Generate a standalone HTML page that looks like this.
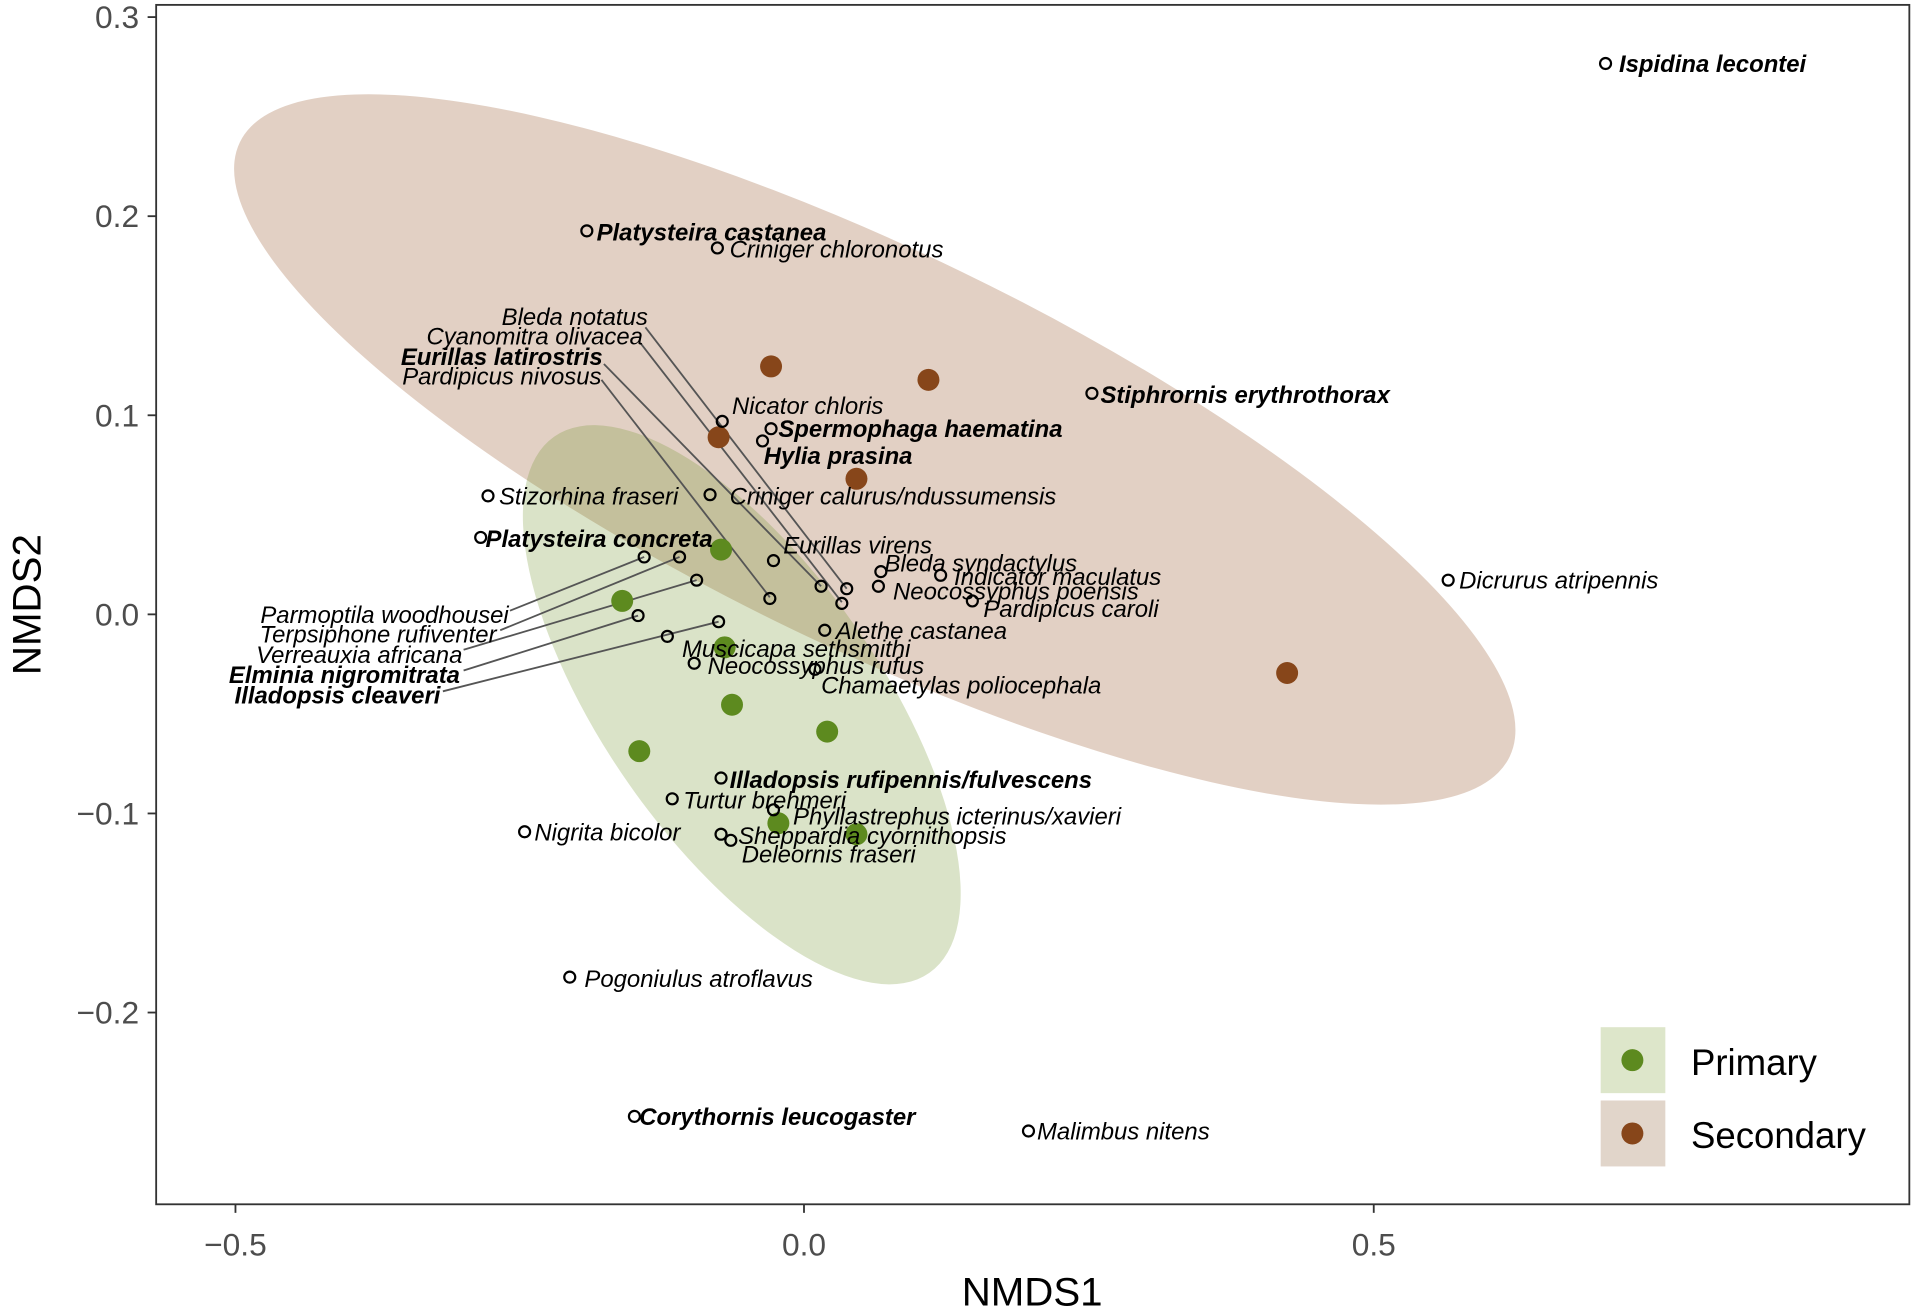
<!DOCTYPE html>
<html><head><meta charset="utf-8"><style>
html,body{margin:0;padding:0;background:#fff;}
svg{display:block;}
text{font-family:"Liberation Sans",sans-serif;}
.l{font-size:19.6px;font-style:italic;fill:#000;}
.b{font-weight:bold;}
.t{font-size:26px;fill:#4d4d4d;}
</style></head><body>
<svg width="1913" height="1313" viewBox="0 0 1568 1075" preserveAspectRatio="none" xmlns="http://www.w3.org/2000/svg">
<rect width="1568" height="1075" fill="#fff"/>
<ellipse cx="717" cy="368" rx="578" ry="162" transform="rotate(25.8 717 368)" fill="rgb(139,69,19)" fill-opacity="0.25"/>
<ellipse cx="608" cy="577" rx="268" ry="113" transform="rotate(55 608 577)" fill="rgb(107,142,35)" fill-opacity="0.25"/>
<g stroke="#555" stroke-width="1.5" fill="none">
<line x1="529" y1="268" x2="694" y2="482"/>
<line x1="525" y1="281" x2="690" y2="493"/>
<line x1="495" y1="298" x2="673" y2="480"/>
<line x1="493" y1="311" x2="631" y2="489"/>
<line x1="418" y1="500" x2="528" y2="456"/>
<line x1="410" y1="516" x2="557" y2="456"/>
<line x1="380" y1="532" x2="571" y2="475"/>
<line x1="380" y1="549" x2="523" y2="504"/>
<line x1="363" y1="566" x2="589" y2="509"/>
</g>
<g fill="#5d8a1f">
<circle cx="591" cy="450" r="9"/><circle cx="510" cy="492" r="9"/><circle cx="594" cy="530" r="9"/><circle cx="600" cy="577" r="9"/><circle cx="678" cy="599" r="9"/><circle cx="524" cy="615" r="9"/><circle cx="638" cy="674" r="9"/><circle cx="702" cy="683" r="9"/>
</g>
<g fill="#87461a">
<circle cx="632" cy="300" r="9"/><circle cx="761" cy="311" r="9"/><circle cx="589" cy="358" r="9"/><circle cx="702" cy="392" r="9"/><circle cx="1055" cy="551" r="9"/>
</g>
<g fill="none" stroke="#000" stroke-width="1.8">
<circle cx="1316" cy="52" r="4.5"/><circle cx="481" cy="189" r="4.5"/><circle cx="588" cy="203" r="4.5"/><circle cx="592" cy="345" r="4.5"/><circle cx="632" cy="351" r="4.5"/><circle cx="625" cy="361" r="4.5"/><circle cx="895" cy="322" r="4.5"/><circle cx="400" cy="406" r="4.5"/><circle cx="582" cy="405" r="4.5"/><circle cx="394" cy="440" r="4.5"/><circle cx="634" cy="459" r="4.5"/><circle cx="722" cy="468" r="4.5"/><circle cx="771" cy="471" r="4.5"/><circle cx="720" cy="480" r="4.5"/><circle cx="797" cy="492" r="4.5"/><circle cx="1187" cy="475" r="4.5"/><circle cx="676" cy="516" r="4.5"/><circle cx="547" cy="521" r="4.5"/><circle cx="569" cy="543" r="4.5"/><circle cx="668" cy="548" r="4.5"/><circle cx="591" cy="637" r="4.5"/><circle cx="551" cy="654" r="4.5"/><circle cx="634" cy="663" r="4.5"/><circle cx="430" cy="681" r="4.5"/><circle cx="591" cy="683" r="4.5"/><circle cx="599" cy="688" r="4.5"/><circle cx="467" cy="800" r="4.5"/><circle cx="520" cy="914" r="4.5"/><circle cx="843" cy="926" r="4.5"/>
<circle cx="694" cy="482" r="4.5"/><circle cx="690" cy="494" r="4.5"/><circle cx="673" cy="480" r="4.5"/><circle cx="631" cy="490" r="4.5"/>
<circle cx="528" cy="456" r="4.5"/><circle cx="557" cy="456" r="4.5"/><circle cx="571" cy="475" r="4.5"/><circle cx="523" cy="504" r="4.5"/><circle cx="589" cy="509" r="4.5"/>
</g>
<g class="l">
<text x="1327" y="59" class="l b">Ispidina lecontei</text>
<text x="489" y="197" class="l b">Platysteira castanea</text>
<text x="598" y="211">Criniger chloronotus</text>
<text x="600" y="339">Nicator chloris</text>
<text x="638" y="358" class="l b">Spermophaga haematina</text>
<text x="626" y="380" class="l b">Hylia prasina</text>
<text x="902" y="330" class="l b">Stiphrornis erythrothorax</text>
<text x="409" y="413">Stizorhina fraseri</text>
<text x="598" y="413">Criniger calurus/ndussumensis</text>
<text x="398" y="448" class="l b">Platysteira concreta</text>
<text x="642" y="453">Eurillas virens</text>
<text x="725" y="468">Bleda syndactylus</text>
<text x="782" y="479">Indicator maculatus</text>
<text x="732" y="491">Neocossyphus poensis</text>
<text x="806" y="505">Pardipicus caroli</text>
<text x="1196" y="482">Dicrurus atripennis</text>
<text x="685" y="523">Alethe castanea</text>
<text x="559" y="538">Muscicapa sethsmithi</text>
<text x="580" y="552">Neocossyphus rufus</text>
<text x="673" y="568">Chamaetylas poliocephala</text>
<text x="598" y="645" class="l b">Illadopsis rufipennis/fulvescens</text>
<text x="560" y="662">Turtur brehmeri</text>
<text x="650" y="675">Phyllastrephus icterinus/xavieri</text>
<text x="438" y="688">Nigrita bicolor</text>
<text x="605" y="691">Sheppardia cyornithopsis</text>
<text x="608" y="706">Deleornis fraseri</text>
<text x="479" y="808">Pogoniulus atroflavus</text>
<text x="524" y="921" class="l b">Corythornis leucogaster</text>
<text x="850" y="933">Malimbus nitens</text>
<g text-anchor="end">
<text x="531" y="266">Bleda notatus</text>
<text x="527" y="282">Cyanomitra olivacea</text>
<text x="494" y="299" class="l b">Eurillas latirostris</text>
<text x="493" y="315">Pardipicus nivosus</text>
<text x="417" y="510">Parmoptila woodhousei</text>
<text x="407" y="526">Terpsiphone rufiventer</text>
<text x="379" y="543">Verreauxia africana</text>
<text x="377" y="559" class="l b">Elminia nigromitrata</text>
<text x="361" y="576" class="l b">Illadopsis cleaveri</text>
</g>
</g>
<rect x="1312" y="841" width="53" height="54" fill="#dde6ca"/>
<rect x="1312" y="901" width="53" height="54" fill="#e1d5ca"/>
<circle cx="1338" cy="868" r="9" fill="#5d8a1f"/>
<circle cx="1338" cy="928" r="9" fill="#87461a"/>
<text x="1386" y="880" font-size="30" fill="#000">Primary</text>
<text x="1386" y="940" font-size="30" fill="#000">Secondary</text>
<rect x="128" y="4" width="1437" height="982" fill="none" stroke="#333" stroke-width="1.5"/>
<g stroke="#333" stroke-width="1.5">
<line x1="121" y1="14" x2="128" y2="14"/><line x1="121" y1="177" x2="128" y2="177"/><line x1="121" y1="340" x2="128" y2="340"/><line x1="121" y1="503" x2="128" y2="503"/><line x1="121" y1="666" x2="128" y2="666"/><line x1="121" y1="829" x2="128" y2="829"/>
<line x1="193" y1="986" x2="193" y2="993"/><line x1="659" y1="986" x2="659" y2="993"/><line x1="1126" y1="986" x2="1126" y2="993"/>
</g>
<g class="t" text-anchor="end">
<text x="114" y="23">0.3</text><text x="114" y="186">0.2</text><text x="114" y="349">0.1</text><text x="114" y="512">0.0</text><text x="114" y="675">−0.1</text><text x="114" y="838">−0.2</text>
</g>
<g class="t" text-anchor="middle">
<text x="193" y="1028">−0.5</text><text x="659" y="1028">0.0</text><text x="1126" y="1028">0.5</text>
</g>
<text x="846" y="1069" font-size="33" text-anchor="middle" fill="#000">NMDS1</text>
<text transform="translate(33 495) rotate(-90)" font-size="33" text-anchor="middle" fill="#000">NMDS2</text>
</svg>
</body></html>
